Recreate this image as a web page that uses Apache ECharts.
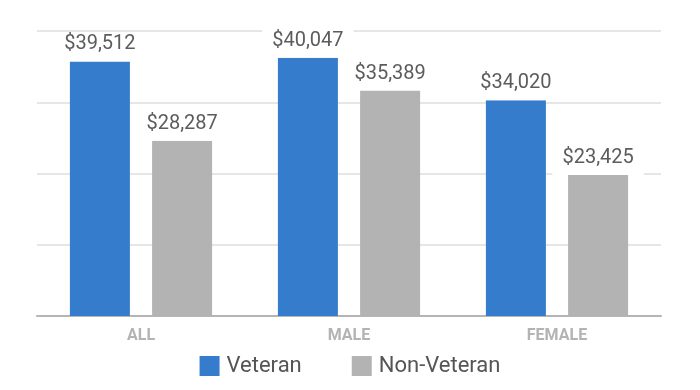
<!DOCTYPE html>
<html>
<head>
<meta charset="utf-8">
<script src="https://cdn.jsdelivr.net/npm/echarts@6/dist/echarts.min.js"></script>
<style>html,body{margin:0;padding:0;background:#fff}#c{width:700px;height:390px}</style>
</head>
<body>
<div id="c"></div>
<script>
const categories = ['ALL', 'MALE', 'FEMALE'];
const veteran = [39512, 40047, 34020];
const nonVeteran = [28287, 35389, 23425];
const seriesNames = ['Veteran', 'Non-Veteran'];

const chart = echarts.init(document.getElementById('c'), null, {renderer: 'canvas'});
const labelOpt = {
  show: true,
  position: 'top',
  distance: 0,
  color: '#5c5c5c',
  fontFamily: 'Roboto',
  fontSize: 20,
  backgroundColor: '#ffffff',
  padding: [2, 10, 7, 10],
  formatter: p => '$' + p.value.toLocaleString('en-US')
};
chart.setOption({
  animation: false,
  backgroundColor: '#ffffff',
  grid: {left: 37, right: 39, top: 31, height: 285},
  legend: {
    data: seriesNames,
    bottom: 8,
    left: 'center',
    itemWidth: 20,
    itemHeight: 20,
    itemGap: 50,
    icon: 'rect',
    textStyle: {fontFamily: 'Roboto', fontSize: 22, color: '#555555', padding: [0, 0, 0, 2]}
  },
  xAxis: {
    type: 'category',
    data: categories,
    axisTick: {show: false},
    axisLine: {lineStyle: {color: '#b5b5b5', width: 2}},
    axisLabel: {fontFamily: 'Roboto', fontSize: 16, fontWeight: 'bold', color: '#b3b3b3', margin: 12}
  },
  yAxis: [
    {type: 'value', min: 3460, max: 43820, show: false, splitLine: {show: false}},
    {type: 'value', min: 0, max: 4, interval: 1, axisLabel: {show: false}, axisLine: {show: false}, axisTick: {show: false},
     splitLine: {show: true, lineStyle: {color: '#e6e6e6', width: 2}}}
  ],
  series: [
    {name: seriesNames[0], type: 'bar', data: veteran, barWidth: 60, barGap: '37%', itemStyle: {color: '#367ccc'}, label: labelOpt, yAxisIndex: 0},
    {name: seriesNames[1], type: 'bar', data: nonVeteran, barWidth: 60, barGap: '37%', itemStyle: {color: '#b3b3b3'}, label: labelOpt, yAxisIndex: 0}
  ]
});
</script>
</body>
</html>
